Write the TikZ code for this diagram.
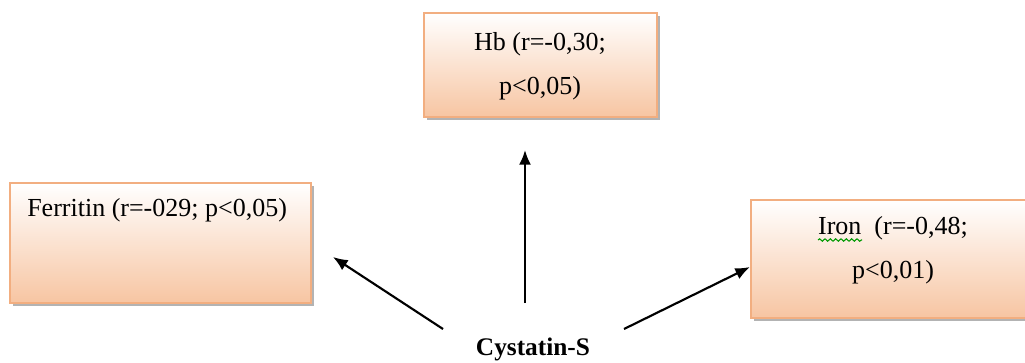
\documentclass[tikz,border=0pt]{standalone}
\usepackage{fontspec}
\setmainfont{Liberation Serif}
\usetikzlibrary{shadows,arrows.meta,decorations.pathmorphing}
\definecolor{peach}{HTML}{F7C5A2}
\definecolor{peachline}{HTML}{F2AE80}
\begin{document}
\begin{tikzpicture}[x=0.75pt,y=-0.75pt,
  boxnode/.style={draw=peachline, line width=1.2pt, top color=white, bottom color=peach,
     rectangle, inner sep=0pt,
     drop shadow={shadow xshift=2.2pt, shadow yshift=-2.4pt, fill=black!50, opacity=0.6}},
  lbl/.style={font=\fontsize{19.5}{33}\selectfont, align=center, inner sep=0pt},
  conn/.style={line width=1.6pt, -{Latex[length=11pt,width=9pt]}}]
\useasboundingbox (0,0) rectangle (1025,362);
\begin{scope}
\clip (0,0) rectangle (1025,362);
% boxes
\node[boxnode, minimum width=174.75pt, minimum height=78pt] (hb) at (540.5,65) {};
\node[boxnode, minimum width=225.75pt, minimum height=90pt] (fer) at (160.5,243) {};
\node[boxnode, minimum width=210pt, minimum height=88.5pt] (iron) at (891,259) {};
% texts
\node[lbl] (hbt) at (540,66) {Hb (r=-0,30;\\p<0,05)};
\node[lbl, anchor=west] (fert) at (27,210) {Ferritin (r=-029; p<0,05)};
\node[lbl] (iront) at (893,250) {Iron\ \ (r=-0,48;\\p<0,01)};
\draw[green!60!black, line width=0.8pt, decorate, decoration={snake, amplitude=0.9pt, segment length=4pt}]
  (818,240) -- (862,240);
\node[font=\fontsize{19}{22}\selectfont\bfseries, inner sep=0pt] (cys) at (533,349) {Cystatin-S};
% connector ends
\coordinate (s1) at (443,329);
\coordinate (e1) at (333,257);
\coordinate (s2) at (525,303);
\coordinate (e2) at (525,150);
\coordinate (s3) at (624,329);
\coordinate (e3) at (750,267);
\draw[conn] (s1) -- (e1);
\draw[conn] (s2) -- (e2);
\draw[conn] (s3) -- (e3);
\end{scope}
\end{tikzpicture}
\end{document}
